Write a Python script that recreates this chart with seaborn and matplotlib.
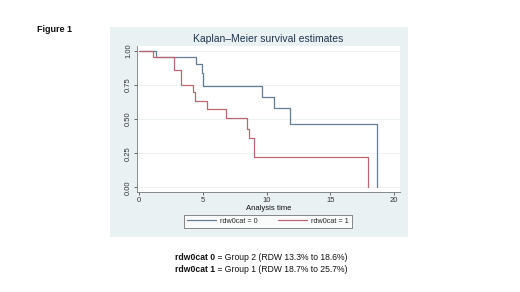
import matplotlib
matplotlib.use('Agg')
import matplotlib.pyplot as plt
import matplotlib.patches as mpatches
import seaborn as sns

sns.set_style('white')
plt.rcParams['font.family'] = ['Liberation Sans', 'DejaVu Sans']

# Kaplan-Meier step values
time_g0 = [0, 1.3, 4.42, 4.9, 5.03, 9.66, 10.6, 11.83, 18.66]
surv_g0 = [1.0, 0.95, 0.90, 0.834, 0.744, 0.659, 0.578, 0.461, 0.0]
time_g1 = [0, 1.1, 2.75, 3.3, 4.22, 4.37, 5.34, 6.8, 8.48, 8.62, 9.0, 17.93]
surv_g1 = [1.0, 0.95, 0.855, 0.752, 0.70, 0.634, 0.576, 0.505, 0.43, 0.363, 0.22, 0.0]
group_labels = ['rdw0cat = 0', 'rdw0cat = 1']
x_ticks = [0, 5, 10, 15, 20]
y_ticks = [0, 0.25, 0.5, 0.75, 1.0]

COLOR_G0 = '#637d95'
COLOR_G1 = '#bb6670'
PANEL_BG = '#eaf1f3'
TEXT_COLOR = '#1f3550'

fig = plt.figure(figsize=(5.2, 2.92), dpi=100, facecolor='white')

# Stata graph region background
fig.patches.append(mpatches.Rectangle((110 / 520, 1 - 237 / 292), 298 / 520, 210 / 292,
                                      transform=fig.transFigure, facecolor=PANEL_BG,
                                      edgecolor='none', zorder=-5))

ax = fig.add_axes([137 / 520, 1 - 192 / 292, 263 / 520, 146 / 292])
ax.set_zorder(1)
ax.set_facecolor('white')

sns.lineplot(x=time_g0, y=surv_g0, ax=ax, color=COLOR_G0, lw=0.9,
             drawstyle='steps-post', estimator=None, sort=False, label=group_labels[0])
sns.lineplot(x=time_g1, y=surv_g1, ax=ax, color=COLOR_G1, lw=0.9,
             drawstyle='steps-post', estimator=None, sort=False, label=group_labels[1])

ax.set_xlim(-0.18, 20.48)
ax.set_ylim(-0.034, 1.034)
ax.set_xticks(x_ticks)
ax.set_yticks(y_ticks)
ax.set_yticklabels([f'{v:.2f}' for v in y_ticks], rotation=90, va='center')
ax.tick_params(axis='both', labelsize=5.5, length=2, width=0.5, pad=1.5,
               colors='#333333', direction='out', bottom=True, left=True)
ax.grid(axis='y', color=PANEL_BG, lw=0.6)
ax.spines[['right', 'top']].set_visible(False)
for s in ['left', 'bottom']:
    ax.spines[s].set_color('#777777')
    ax.spines[s].set_linewidth(0.6)

ax.set_xlabel('Analysis time', fontsize=5.5, color='#111111', labelpad=0.5)
ax.set_ylabel('')
ax.set_title('Kaplan\u2013Meier survival estimates', fontsize=7.5, color=TEXT_COLOR, pad=3)

leg = ax.legend(loc='upper center', bbox_to_anchor=(268 / 520, 1 - 215 / 292),
                bbox_transform=fig.transFigure, ncol=2, fontsize=5.2, frameon=True,
                fancybox=False, handlelength=4, columnspacing=2.8, handletextpad=0.6,
                borderpad=0.4, borderaxespad=0)
leg.get_frame().set_edgecolor('#333333')
leg.get_frame().set_linewidth(0.5)

fig.text(37 / 520, 1 - 30 / 292, 'Figure 1', fontsize=6.5, fontweight='bold',
         va='center', ha='left', color='#111111')

# footnote with a bold lead-in
fig.canvas.draw()
renderer = fig.canvas.get_renderer()
notes = [('rdw0cat 0', ' = Group 2 (RDW 13.3% to 18.6%)', 258),
         ('rdw0cat 1', ' = Group 1 (RDW 18.7% to 25.7%)', 270)]
for bold, rest, ypix in notes:
    t = fig.text(175 / 520, 1 - ypix / 292, bold, fontsize=6.2, fontweight='bold',
                 va='center', ha='left', color='#111111')
    bb = t.get_window_extent(renderer)
    fig.text(bb.x1 / fig.bbox.width, 1 - ypix / 292, rest, fontsize=6.2,
             va='center', ha='left', color='#111111')

fig.savefig('out.png', dpi=100)
